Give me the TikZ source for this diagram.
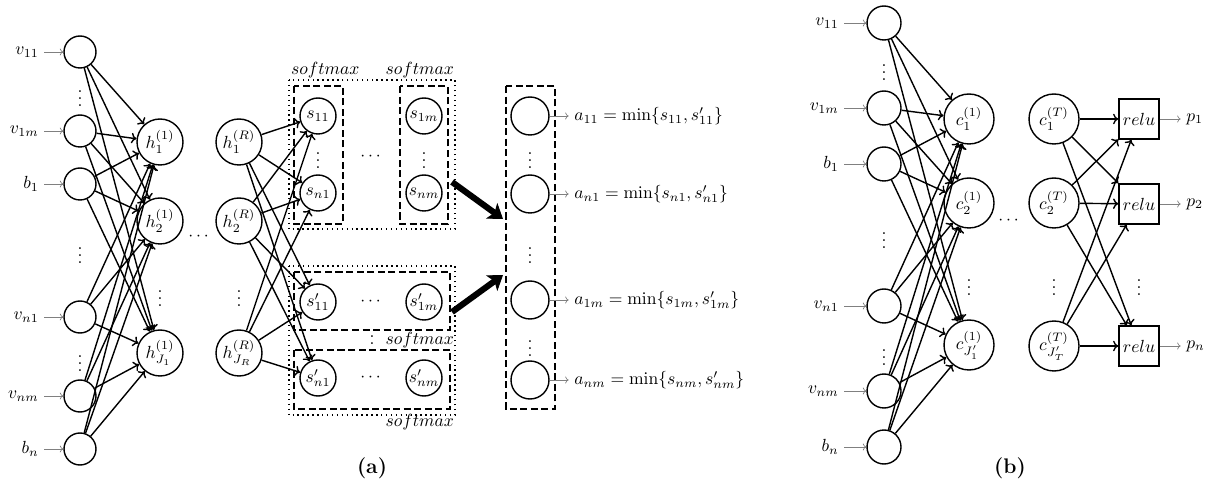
\documentclass[tikz,border=0pt]{standalone}
\usepackage{amsmath}
\usetikzlibrary{arrows.meta,positioning}
\tikzset{
  inp/.style={circle,draw,thick,minimum size=0.64cm,inner sep=0pt},
  inpb/.style={circle,draw,thick,minimum size=0.68cm,inner sep=0pt},
  hid/.style={circle,draw,thick,minimum size=0.92cm,inner sep=0pt},
  smx/.style={circle,draw,thick,minimum size=0.72cm,inner sep=0pt},
  outn/.style={circle,draw,thick,minimum size=0.76cm,inner sep=0pt},
  cnode/.style={circle,draw,thick,minimum size=1cm,inner sep=0pt},
  relubox/.style={rectangle,draw,thick,minimum size=0.8cm,inner sep=0pt},
  lbl/.style={inner sep=3pt},
  vd/.style={inner sep=0pt},
  garr/.style={-{To[length=2pt,width=4pt]},gray},
  arr/.style={-{To[length=3pt,width=6pt]},thick},
  dashbox/.style={thick,dash pattern=on 4pt off 2pt},
  dotbox/.style={thick,dotted},
  bigarr/.style={line width=3.5pt,-{Stealth[length=8pt,width=11pt,inset=2pt,line width=0.5pt]}},
}
\begin{document}
\begin{tikzpicture}[x=0.02cm,y=-0.02cm]
\useasboundingbox (0,0) rectangle (1219,482);
% (a) inputs
\foreach \n/\y/\t in {1/52/v_{11},2/131/v_{1m},3/184/b_1,4/317/v_{n1},5/396/v_{nm},6/449/b_n} {
\node[inp] (va\n) at (80,\y) {};
\node[lbl, left=0.38cm of va\n] (la\n) {$\t$};
\draw[garr] (la\n) -- (va\n);
}
\foreach \y in {93,250,358}
\node[vd] at (80,\y) {$\vdots$};
% first hidden layer
\foreach \n/\y/\t in {1/142/h_1^{(1)},2/221/h_2^{(1)},3/353/h_{J_1}^{(1)}}
\node[hid] (h\n) at (160,\y) {$\t$};
\node[vd] at (160,293) {$\vdots$};
\foreach \i in {1,...,6}
\foreach \j in {1,2,3}
\draw[arr] (va\i) -- (h\j);
\node[vd] (dotsa) at (200,237) {$\cdots$};
% last hidden layer
\foreach \n/\y/\t in {1/142/h_1^{(R)},2/221/h_2^{(R)},3/353/h_{J_R}^{(R)}}
\node[hid] (hr\n) at (239,\y) {$\t$};
\node[vd] at (239,293) {$\vdots$};
% softmax nodes
\node[smx] (s11) at (318,116) {$s_{11}$};
\node[smx] (sn1) at (318,193) {$s_{n1}$};
\node[smx] (s1m) at (424,116) {$s_{1m}$};
\node[smx] (snm) at (424,193) {$s_{nm}$};
\node[smx] (t11) at (318,302) {$s'_{11}$};
\node[smx] (tn1) at (318,378) {$s'_{n1}$};
\node[smx] (t1m) at (424,302) {$s'_{1m}$};
\node[smx] (tnm) at (424,378) {$s'_{nm}$};
\node[vd] at (318,155) {$\vdots$};
\node[vd] at (424,155) {$\vdots$};
\node[vd] at (372,338) {$\vdots$};
\node[vd] at (372,157) {$\cdots$};
\node[vd] at (372,302) {$\cdots$};
\node[vd] at (372,378) {$\cdots$};
\foreach \i in {1,2,3}
\foreach \j in {s11,sn1,t11,tn1}
\draw[arr] (hr\i) -- (\j);
% softmax boxes
\draw[dotbox] (289,80) rectangle (455,229);
\draw[dashbox] (294,86) rectangle (343,224);
\draw[dashbox] (400,86) rectangle (448,224);
\draw[dotbox] (289,266) rectangle (455,415);
\draw[dashbox] (294,272) rectangle (450,330);
\draw[dashbox] (294,350) rectangle (450,409);
\node[anchor=south west, inner sep=1pt] (sm1) at (289,80) {$softmax$};
\node[anchor=south east, inner sep=1pt] (sm2) at (456,80) {$softmax$};
\node[anchor=east, inner sep=1pt] (sm3) at (456,340) {$softmax$};
\node[anchor=north east, inner sep=1pt] (sm4) at (456,412) {$softmax$};
% outputs
\foreach \n/\y in {1/116,2/194,3/300,4/380}
\node[outn] (o\n) at (530,\y) {};
\foreach \y in {155,250,343}
\node[vd] at (530,\y) {$\vdots$};
\draw[dashbox] (506,86) rectangle (555,409);
\node[lbl, right=0.38cm of o1, anchor=west] (la11) {$a_{11}=\min\{s_{11},s'_{11}\}$};
\node[lbl, right=0.38cm of o2, anchor=west] (lan1) {$a_{n1}=\min\{s_{n1},s'_{n1}\}$};
\node[lbl, right=0.38cm of o3, anchor=west] (la1m) {$a_{1m}=\min\{s_{1m},s'_{1m}\}$};
\node[lbl, right=0.38cm of o4, anchor=west] (lanm) {$a_{nm}=\min\{s_{nm},s'_{nm}\}$};
\draw[garr] (o1) -- (la11);
\draw[garr] (o2) -- (lan1);
\draw[garr] (o3) -- (la1m);
\draw[garr] (o4) -- (lanm);
\coordinate (b1s) at (452,182);
\coordinate (b1e) at (503,219);
\coordinate (b2s) at (452,312);
\coordinate (b2e) at (503,275);
\draw[bigarr] (b1s) -- (b1e);
\draw[bigarr] (b2s) -- (b2e);
\node (capa) at (372,468) {\large\textbf{(a)}};
% (b) inputs
\foreach \n/\y/\t in {1/23/v_{11},2/108/v_{1m},3/164/b_1,4/306/v_{n1},5/391/v_{nm},6/447/b_n} {
\node[inpb] (vb\n) at (884,\y) {};
\node[lbl, left=0.44cm of vb\n] (lb\n) {$\t$};
\draw[garr] (lb\n) -- (vb\n);
}
\foreach \y in {67,235,352}
\node[vd] at (884,\y) {$\vdots$};
\foreach \n/\y/\t in {1/119/c_1^{(1)},2/203/c_2^{(1)},3/345/c_{J'_1}^{(1)}}
\node[cnode] (c\n) at (969,\y) {$\t$};
\node[vd] at (969,282) {$\vdots$};
\foreach \i in {1,...,6}
\foreach \j in {1,2,3}
\draw[arr] (vb\i) -- (c\j);
\node[vd] (dotsb) at (1010,221) {$\cdots$};
\foreach \n/\y/\t in {1/119/c_1^{(T)},2/203/c_2^{(T)},3/346/c_{J'_T}^{(T)}}
\node[cnode] (ct\n) at (1054,\y) {$\t$};
\node[vd] at (1054,282) {$\vdots$};
\foreach \n/\y/\t in {1/119/p_1,2/204/p_2,3/346/p_n} {
\node[relubox] (r\n) at (1139,\y) {$relu$};
\node[lbl, right=0.42cm of r\n] (p\n) {$\t$};
\draw[garr] (r\n) -- (p\n);
}
\node[vd] at (1139,282) {$\vdots$};
\foreach \i in {1,2,3}
\foreach \j in {1,2,3}
\draw[arr] (ct\i) -- (r\j);
\node (capb) at (1010,468) {\large\textbf{(b)}};
\end{tikzpicture}
\end{document}
